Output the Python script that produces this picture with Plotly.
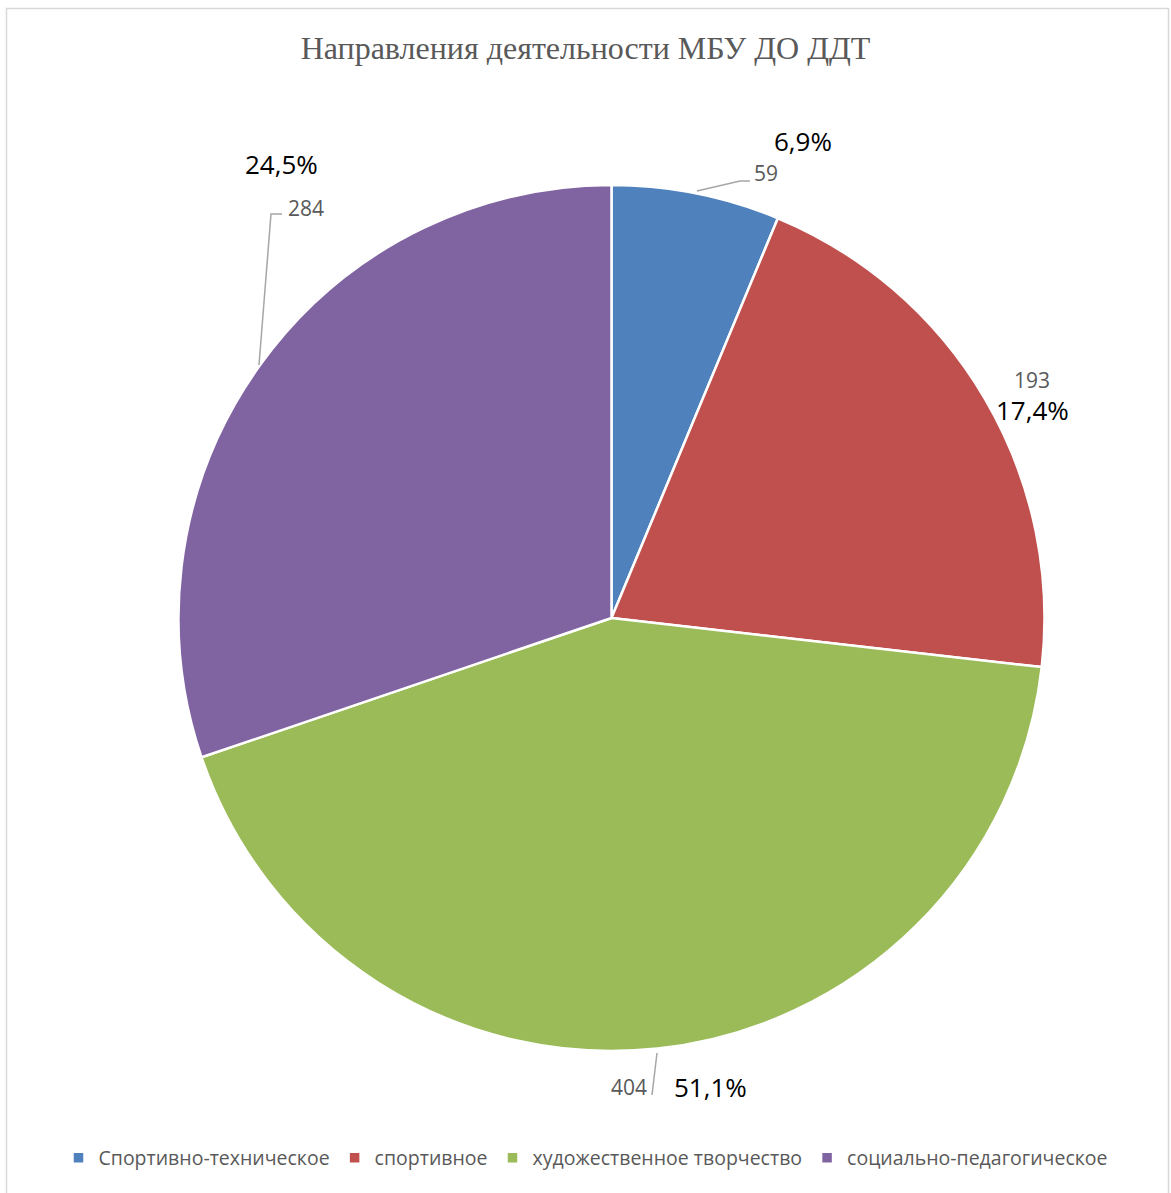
import plotly.graph_objects as go

# ---- data ----
categories = ["Спортивно-техническое", "спортивное", "художественное творчество", "социально-педагогическое"]
values = [59, 193, 404, 284]
percent_labels = ["6,9%", "17,4%", "51,1%", "24,5%"]

# ---- style ----
colors = ["#4F81BD", "#C0504D", "#9BBB59", "#8064A2"]
W, H = 1171, 1193
CX, CY, R = 611.5, 618, 433          # pie centre / radius in px
VALUE_POS = [(766, 173), (1032, 380), (629, 1087), (306, 208)]
PCT_POS = [(803, 141), (1032, 410), (710, 1087), (281, 164)]
LEADERS = [
    [(697, 191), (740, 181), (750, 181)],
    None,
    [(657, 1053), (652, 1095)],
    [(259, 365), (271, 214), (282, 214)],
]
SANS = "Open Sans"


def px(x, y):
    return x / W, 1 - y / H


fig = go.Figure(go.Pie(
    labels=categories,
    values=values,
    sort=False,
    direction="clockwise",
    rotation=0,
    marker=dict(colors=colors, line=dict(color="white", width=2.5)),
    textinfo="none",
    hoverinfo="label+value",
    domain=dict(x=[(CX - R) / W, (CX + R) / W], y=[1 - (CY + R) / H, 1 - (CY - R) / H]),
))

annotations = []
for v, (x, y) in zip(values, VALUE_POS):
    xp, yp = px(x, y)
    annotations.append(dict(x=xp, y=yp, xref="paper", yref="paper", text=str(v), showarrow=False,
                            xanchor="center", yanchor="middle",
                            font=dict(family=SANS, size=21, color="#595959")))
for t, (x, y) in zip(percent_labels, PCT_POS):
    xp, yp = px(x, y)
    annotations.append(dict(x=xp, y=yp, xref="paper", yref="paper", text=t, showarrow=False,
                            xanchor="center", yanchor="middle",
                            font=dict(family=SANS, size=26, color="#000000")))

shapes = []
for pts in LEADERS:
    if not pts:
        continue
    path = "M " + " L ".join(f"{px(x, y)[0]} {px(x, y)[1]}" for x, y in pts)
    shapes.append(dict(type="path", xref="paper", yref="paper", path=path,
                       line=dict(color="#A6A6A6", width=1.5)))
# chart border
shapes.append(dict(type="rect", xref="paper", yref="paper",
                   x0=6.5 / W, x1=1168.5 / W, y0=-0.02, y1=1 - 8.5 / H,
                   line=dict(color="#D9D9D9", width=1.5), fillcolor="rgba(0,0,0,0)"))

fig.update_layout(
    width=W, height=H,
    margin=dict(l=0, r=0, t=0, b=0),
    paper_bgcolor="white",
    title=dict(text="Направления деятельности МБУ ДО ДДТ", x=0.5, xanchor="center",
               y=1 - 48 / H, yanchor="middle", yref="container",
               font=dict(family="Liberation Serif", size=32, color="#595959")),
    showlegend=True,
    legend=dict(orientation="h", x=0.5, xanchor="center", y=1 - 1158 / H, yanchor="middle",
                font=dict(family=SANS, size=19.5, color="#595959"), traceorder="normal"),
    annotations=annotations,
    shapes=shapes,
)

fig.write_html("out.html", config={"displayModeBar": False},
               post_script="document.body.style.margin='0px';document.body.style.overflow='hidden';")
